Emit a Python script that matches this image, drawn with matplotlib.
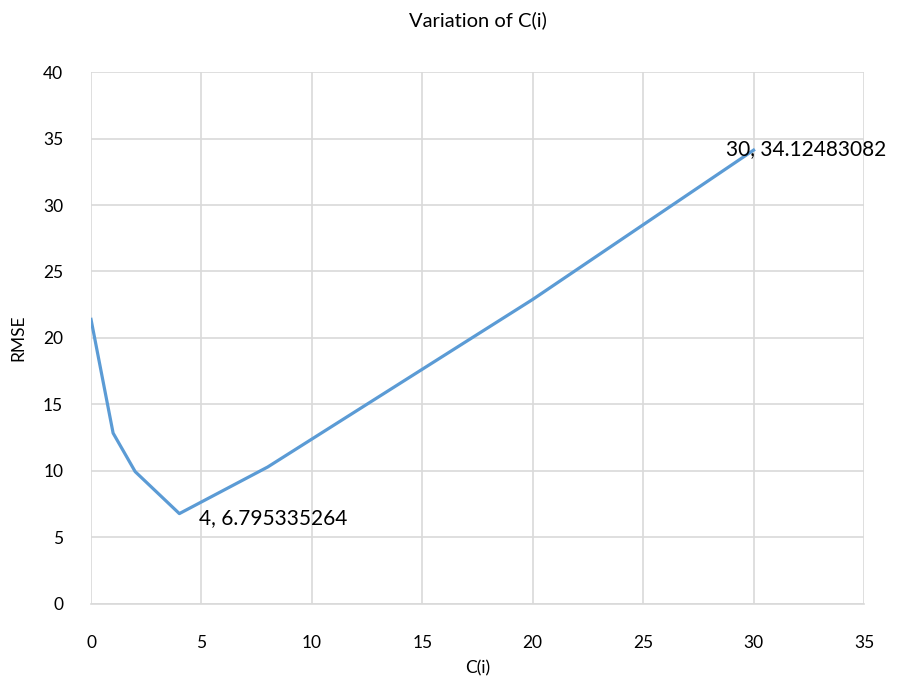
import matplotlib
matplotlib.use('Agg')
import matplotlib.pyplot as plt

# Data
c_values = [0, 1, 2, 4, 8, 20, 30]
rmse_values = [21.4, 12.85, 9.95, 6.795335264, 10.3, 22.9, 34.12483082]

x_ticks = [0, 5, 10, 15, 20, 25, 30, 35]
y_ticks = [0, 5, 10, 15, 20, 25, 30, 35, 40]

plt.rcParams['font.family'] = ['Lato', 'DejaVu Sans']

fig = plt.figure(figsize=(9.03, 6.8), dpi=100)
ax = fig.add_axes([0.1008, 0.1118, 0.856, 0.7823])

ax.plot(c_values, rmse_values, color='#5B9BD5', linewidth=2.3, solid_joinstyle='round')

ax.set_xlim(0, 35)
ax.set_ylim(0, 40)
ax.set_xticks(x_ticks)
ax.set_yticks(y_ticks)
ax.grid(True, color='#D9D9D9', linewidth=1.2)
ax.set_axisbelow(True)
for side in ['top', 'right', 'left']:
    ax.spines[side].set_visible(False)
ax.spines['bottom'].set_color('#D9D9D9')
ax.spines['bottom'].set_linewidth(1.2)
ax.tick_params(length=0, labelsize=12.5, colors='black')
ax.tick_params(axis='x', pad=22)
ax.tick_params(axis='y', pad=20)

ax.text(0.5, 1.098, 'Variation of C(i)', transform=ax.transAxes,
        ha='center', va='center', fontsize=14.5)
ax.set_xlabel('C(i)', fontsize=12.5)
ax.xaxis.set_label_coords(0.5, -0.105)
ax.set_ylabel('RMSE', fontsize=12.5)
ax.yaxis.set_label_coords(-0.083, 0.5)

# Data labels for the minimum and the last point
i_min = rmse_values.index(min(rmse_values))
ax.annotate(f'{c_values[i_min]}, {rmse_values[i_min]}',
            xy=(c_values[i_min], rmse_values[i_min]),
            xytext=(20, -4), textcoords='offset pixels',
            ha='left', va='center', fontsize=15)
ax.annotate(f'{c_values[-1]}, {rmse_values[-1]}',
            xy=(c_values[-1], rmse_values[-1]),
            xytext=(-28, 1), textcoords='offset pixels',
            ha='left', va='center', fontsize=15, annotation_clip=False)

fig.savefig('out.png', dpi=100)
